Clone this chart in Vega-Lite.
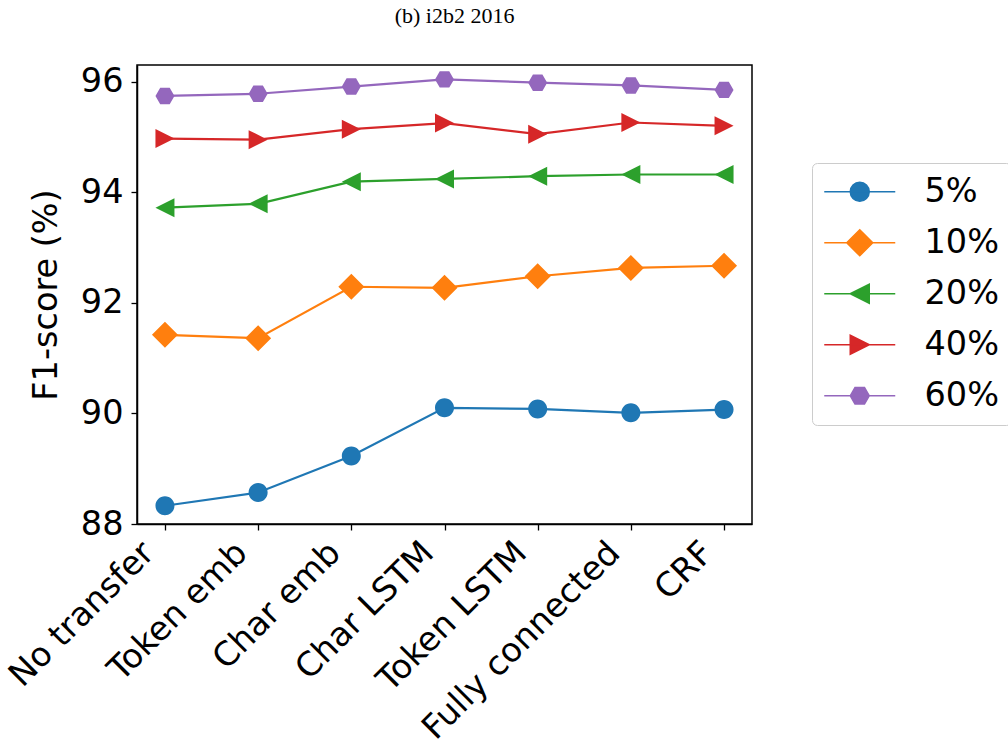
{
  "$schema": "https://vega.github.io/schema/vega-lite/v6.json",
  "autosize": {"type": "none"},
  "width": 615,
  "height": 459,
  "padding": {"left": 137, "top": 65, "right": 256, "bottom": 222},
  "background": "white",
  "title": {
    "text": "(b) i2b2 2016",
    "font": "Liberation Serif",
    "fontSize": 22,
    "fontWeight": "normal",
    "color": "black",
    "anchor": "middle",
    "frame": "group",
    "offset": 37,
    "dx": 10
  },
  "data": {
    "values": [
      {"layer": "No transfer", "pct": "5%", "f1": 88.33},
      {"layer": "Token emb", "pct": "5%", "f1": 88.57},
      {"layer": "Char emb", "pct": "5%", "f1": 89.23},
      {"layer": "Char LSTM", "pct": "5%", "f1": 90.10},
      {"layer": "Token LSTM", "pct": "5%", "f1": 90.08},
      {"layer": "Fully connected", "pct": "5%", "f1": 90.01},
      {"layer": "CRF", "pct": "5%", "f1": 90.07},
      {"layer": "No transfer", "pct": "10%", "f1": 91.42},
      {"layer": "Token emb", "pct": "10%", "f1": 91.36},
      {"layer": "Char emb", "pct": "10%", "f1": 92.29},
      {"layer": "Char LSTM", "pct": "10%", "f1": 92.27},
      {"layer": "Token LSTM", "pct": "10%", "f1": 92.48},
      {"layer": "Fully connected", "pct": "10%", "f1": 92.63},
      {"layer": "CRF", "pct": "10%", "f1": 92.67},
      {"layer": "No transfer", "pct": "20%", "f1": 93.72},
      {"layer": "Token emb", "pct": "20%", "f1": 93.79},
      {"layer": "Char emb", "pct": "20%", "f1": 94.19},
      {"layer": "Char LSTM", "pct": "20%", "f1": 94.24},
      {"layer": "Token LSTM", "pct": "20%", "f1": 94.29},
      {"layer": "Fully connected", "pct": "20%", "f1": 94.32},
      {"layer": "CRF", "pct": "20%", "f1": 94.32},
      {"layer": "No transfer", "pct": "40%", "f1": 94.97},
      {"layer": "Token emb", "pct": "40%", "f1": 94.95},
      {"layer": "Char emb", "pct": "40%", "f1": 95.14},
      {"layer": "Char LSTM", "pct": "40%", "f1": 95.25},
      {"layer": "Token LSTM", "pct": "40%", "f1": 95.05},
      {"layer": "Fully connected", "pct": "40%", "f1": 95.26},
      {"layer": "CRF", "pct": "40%", "f1": 95.20},
      {"layer": "No transfer", "pct": "60%", "f1": 95.74},
      {"layer": "Token emb", "pct": "60%", "f1": 95.78},
      {"layer": "Char emb", "pct": "60%", "f1": 95.91},
      {"layer": "Char LSTM", "pct": "60%", "f1": 96.04},
      {"layer": "Token LSTM", "pct": "60%", "f1": 95.98},
      {"layer": "Fully connected", "pct": "60%", "f1": 95.93},
      {"layer": "CRF", "pct": "60%", "f1": 95.85}
    ]
  },
  "encoding": {
    "x": {
      "field": "layer",
      "type": "nominal",
      "sort": null,
      "scale": {
        "type": "point",
        "padding": 0.3,
        "domain": ["No transfer", "Token emb", "Char emb", "Char LSTM", "Token LSTM", "Fully connected", "CRF"]
      },
      "axis": {
        "title": null,
        "labelAngle": -45,
        "labelAlign": "right",
        "labelBaseline": "top",
        "labelFont": "DejaVu Sans",
        "labelFontSize": 33.5,
        "labelColor": "black",
        "labelLimit": 0,
        "labelPadding": 6,
        "labelOffset": -28,
        "tickSize": 6,
        "tickColor": "black",
        "tickWidth": 1.3,
        "domainColor": "black",
        "domainWidth": 1.5,
        "grid": false
      }
    },
    "y": {
      "field": "f1",
      "type": "quantitative",
      "scale": {"domain": [88, 96.3], "nice": false, "zero": false},
      "axis": {
        "title": "F1-score (%)",
        "titleFont": "DejaVu Sans",
        "titleFontSize": 33.5,
        "titleFontWeight": "normal",
        "titleColor": "black",
        "titlePadding": 17,
        "values": [88, 90, 92, 94, 96],
        "labelFont": "DejaVu Sans",
        "labelFontSize": 33.5,
        "labelColor": "black",
        "labelPadding": 8,
        "tickSize": 6,
        "tickColor": "black",
        "tickWidth": 1.3,
        "domainColor": "black",
        "domainWidth": 1.5,
        "grid": false
      }
    },
    "color": {
      "field": "pct",
      "type": "nominal",
      "scale": {
        "domain": ["5%", "10%", "20%", "40%", "60%"],
        "range": ["#1f77b4", "#ff7f0e", "#2ca02c", "#d62728", "#9467bd"]
      },
      "legend": {
        "title": null,
        "orient": "none",
        "legendX": 675,
        "legendY": 98,
        "padding": 12,
        "strokeColor": "#cccccc",
        "fillColor": "white",
        "cornerRadius": 5,
        "labelFont": "DejaVu Sans",
        "labelFontSize": 33.5,
        "labelColor": "black",
        "labelOffset": 48,
        "symbolOffset": 19,
        "symbolSize": 400,
        "rowPadding": 16
      }
    }
  },
  "layer": [
    {
      "mark": {"type": "line", "strokeWidth": 2.2}
    },
    {
      "mark": {"type": "point", "filled": true, "opacity": 1, "size": 400, "strokeWidth": 0},
      "encoding": {
        "shape": {
          "field": "pct",
          "type": "nominal",
          "scale": {
            "domain": ["5%", "10%", "20%", "40%", "60%"],
            "range": [
              "M -3.55 0 L 3.55 0 M -0.95 0 A 0.95 0.95 0 1 0 0.95 0 A 0.95 0.95 0 1 0 -0.95 0 Z",
              "M -3.55 0 L 3.55 0 M 0 -1.3 L 1.3 0 L 0 1.3 L -1.3 0 Z",
              "M -3.55 0 L 3.55 0 M -0.95 0 L 0.95 -0.95 L 0.95 0.95 Z",
              "M -3.55 0 L 3.55 0 M 0.95 0 L -0.95 -0.95 L -0.95 0.95 Z",
              "M -3.55 0 L 3.55 0 M -0.95 0 L -0.475 -0.823 L 0.475 -0.823 L 0.95 0 L 0.475 0.823 L -0.475 0.823 Z"
            ]
          },
          "legend": {
            "title": null,
            "orient": "none",
            "legendX": 675,
            "legendY": 98,
            "padding": 12,
            "strokeColor": "#cccccc",
            "fillColor": "white",
            "cornerRadius": 5,
            "labelFont": "DejaVu Sans",
            "labelFontSize": 33.5,
            "labelColor": "black",
            "labelOffset": 48,
            "symbolOffset": 19,
            "symbolSize": 400,
            "rowPadding": 16,
            "encode": {
              "symbols": {
                "update": {
                  "stroke": {"scale": "color", "field": "value"},
                  "strokeWidth": {"value": 2},
                  "opacity": {"value": 1}
                }
              }
            }
          }
        }
      }
    }
  ],
  "config": {
    "view": {"stroke": "black", "strokeWidth": 1.5}
  }
}
